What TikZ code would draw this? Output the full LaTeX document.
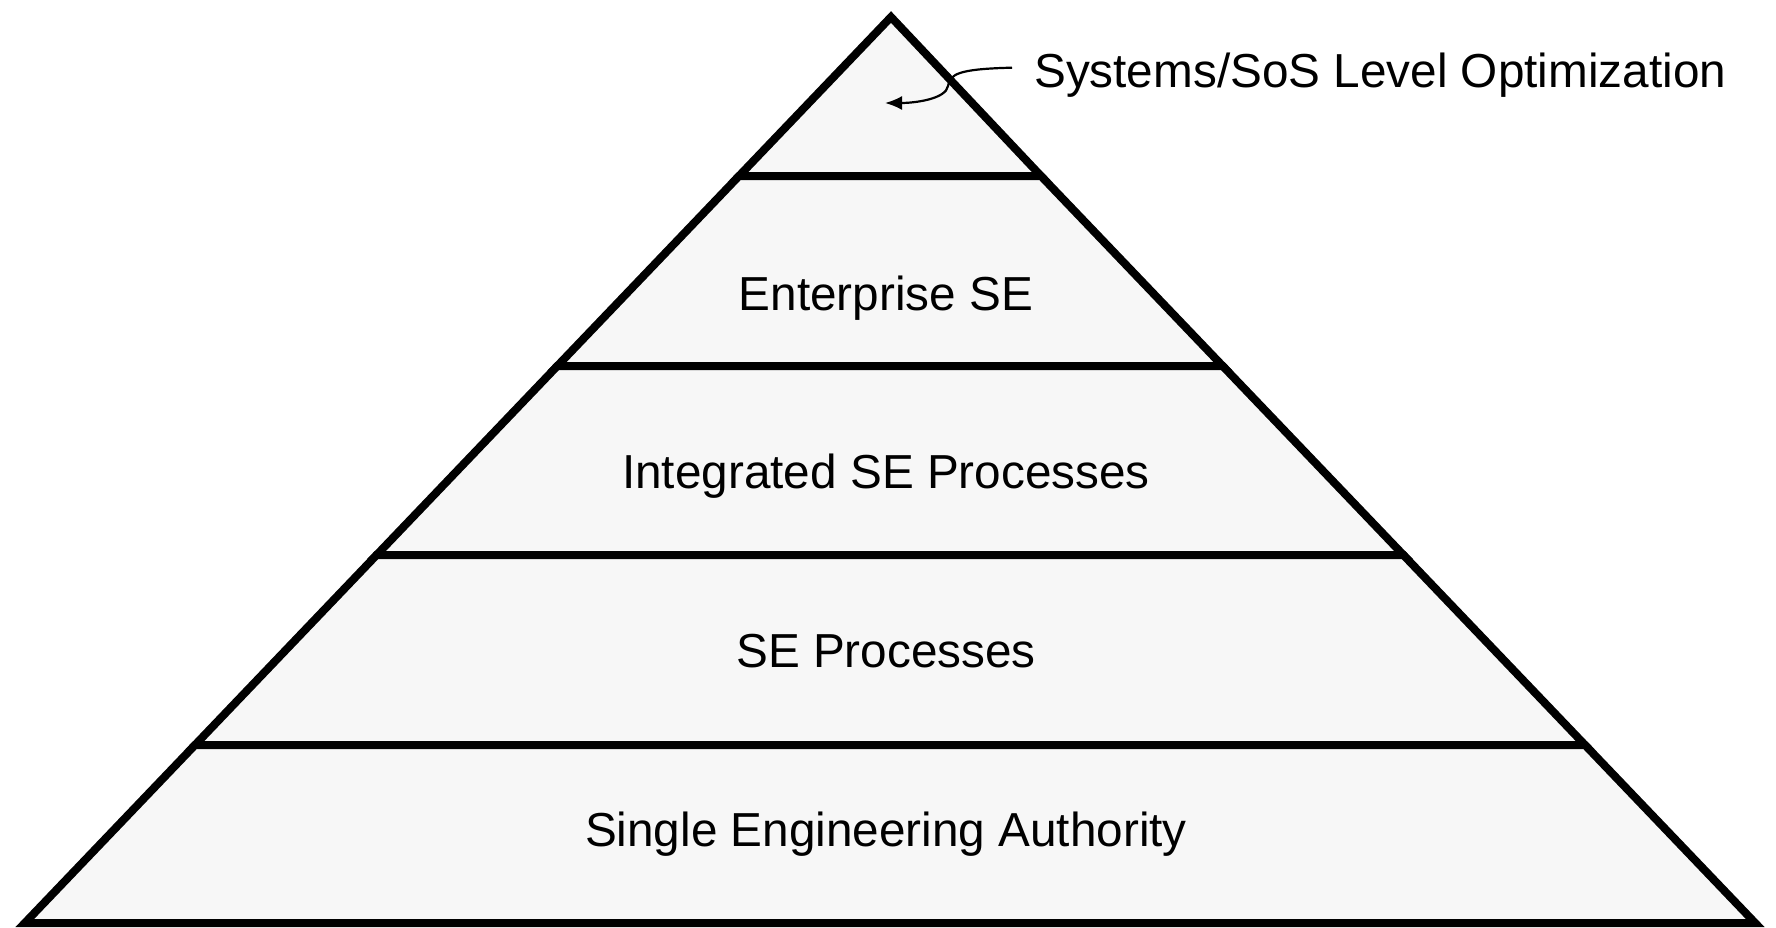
\documentclass[tikz,border=0pt]{standalone}
\usepackage{fontspec}
\setmainfont{Liberation Sans}
\usetikzlibrary{arrows.meta}
\definecolor{layerfill}{RGB}{247,247,247}
\begin{document}
\begin{tikzpicture}[x=1pt,y=-1pt,
  layer/.style={draw=black, fill=layerfill, line width=8pt, line join=miter},
  lbl/.style={font=\fontsize{47.7}{57}\selectfont, inner sep=0pt, anchor=base},
  callout/.style={draw=black, line width=2.2pt, -{Latex[length=17pt,width=14pt]}}]
\useasboundingbox (0,0) rectangle (1776,927);
% layers (top to bottom)
\path[layer] (891,17) -- (1041,176) -- (739,176) -- cycle;
\path[layer] (739,176) -- (1041,176) -- (1222.7,366) -- (557.3,366) -- cycle;
\path[layer] (557.3,366) -- (1222.7,366) -- (1403.4,555) -- (376.6,555) -- cycle;
\path[layer] (376.6,555) -- (1403.4,555) -- (1585,745) -- (195,745) -- cycle;
\path[layer] (195,745) -- (1585,745) -- (1755.2,923) -- (24.8,923) -- cycle;
% labels
\node[lbl] (ent) at (886,310) {Enterprise SE};
\node[lbl] (int) at (886,488) {Integrated SE Processes};
\node[lbl] (sep) at (886,667) {SE Processes};
\node[lbl] (sea) at (886,846) {Single Engineering Authority};
\node[lbl, anchor=base west] (sys) at (1034,87) {Systems/SoS Level Optimization};
\coordinate (tip) at (885,103);
\draw[callout] ([xshift=-22pt,yshift=7pt]sys.west) .. controls (958,69) and (950,74) .. (948,86)
  .. controls (946,99) and (915,103) .. (tip);
\end{tikzpicture}
\end{document}
